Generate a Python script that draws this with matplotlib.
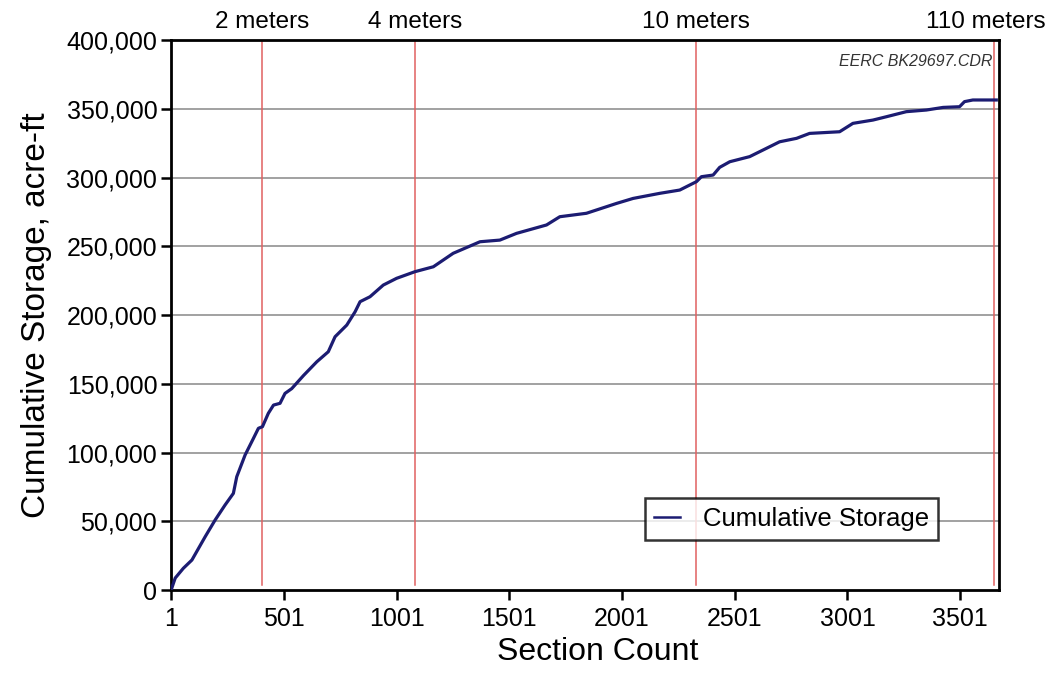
import matplotlib
matplotlib.use("Agg")
import matplotlib.pyplot as plt
from matplotlib.ticker import FuncFormatter
from matplotlib.transforms import blended_transform_factory

plt.rcParams['font.family'] = ['Liberation Sans', 'DejaVu Sans']

# Data
section = [1, 19, 55, 93, 152, 196, 240, 277, 292, 329, 366, 388, 406, 432, 455,
           484, 506, 536, 588, 647, 698, 728, 780, 817, 839, 883, 942, 1001, 1082,
           1164, 1252, 1371, 1459, 1533, 1666, 1725, 1843, 1977, 2050, 2168, 2257,
           2331, 2353, 2405, 2434, 2479, 2567, 2641, 2700, 2775, 2833, 2966, 3025,
           3114, 3173, 3262, 3351, 3425, 3498, 3520, 3557, 3661]
storage = [0, 8700, 15800, 21800, 38800, 50900, 61800, 70300, 82400, 98200, 110300,
           117600, 118800, 128500, 134500, 135800, 143000, 146500, 156000, 166000,
           173300, 184200, 192700, 202400, 209700, 213300, 221800, 226700, 231500,
           235100, 244900, 253300, 254500, 259400, 265500, 271500, 274000, 281200,
           284800, 288500, 290900, 297000, 300600, 301800, 307400, 311500, 315200,
           321200, 326000, 328500, 332100, 333300, 339400, 341800, 344200, 347900,
           349100, 351000, 351500, 355200, 356400, 356400]

depth_labels = ["2 meters", "4 meters", "10 meters", "110 meters"]
depth_sections = [406, 1082, 2327, 3650]

xticks = [1, 501, 1001, 1501, 2001, 2501, 3001, 3501]
yticks = [0, 50000, 100000, 150000, 200000, 250000, 300000, 350000, 400000]

fig = plt.figure(figsize=(10.5, 6.74), dpi=100)
ax = fig.add_axes([0.163, 0.1246, 0.788, 0.816])

for yt in yticks[1:-1]:
    ax.axhline(yt, color='#9a9a9a', lw=1.3, zorder=1)

for xs in depth_sections:
    ax.axvline(xs, ymin=0.01, ymax=1, color='#e06060', lw=1.1, zorder=2)

ax.plot(section, storage, color='#1c1c72', lw=2.3, zorder=3, label='Cumulative Storage')

ax.set_xlim(1, 3671)
ax.set_ylim(0, 400000)
ax.set_xticks(xticks)
ax.set_yticks(yticks)
ax.yaxis.set_major_formatter(FuncFormatter(lambda v, p: f"{int(v):,}"))
ax.tick_params(axis='both', direction='out', length=7, width=1.8, labelsize=18,
               colors='black')
ax.tick_params(axis='x', pad=5)
ax.tick_params(axis='y', pad=3)

for sp in ax.spines.values():
    sp.set_linewidth(2.0)
    sp.set_color('black')

trans = ax.get_xaxis_transform()
for lab, xs in zip(depth_labels[:-1], depth_sections[:-1]):
    ax.text(xs, 1.012, lab, transform=trans, ha='center', va='bottom', fontsize=17.5)
# last label sits at the right edge of the figure
edge_trans = blended_transform_factory(fig.transFigure, ax.transAxes)
ax.text(0.996, 1.012, depth_labels[-1], transform=edge_trans, ha='right', va='bottom',
        fontsize=17.5)

ax.text(0.993, 0.975, "EERC BK29697.CDR", transform=ax.transAxes, ha='right', va='top',
        fontsize=11.5, style='italic', color='#333333')

ax.set_xlabel("Section Count", fontsize=23, labelpad=4)
ax.xaxis.set_label_coords(0.515, -0.085)
ax.set_ylabel("Cumulative Storage, acre-ft", fontsize=24, labelpad=10)

leg = ax.legend(loc='center', bbox_to_anchor=(0.75, 0.129), fontsize=18.5,
                frameon=True, fancybox=False, handlelength=1.0, borderpad=0.35,
                handletextpad=0.9)
leg.get_frame().set_edgecolor('black')
leg.get_frame().set_linewidth(1.8)
leg.get_lines()[0].set_linewidth(1.8)

fig.savefig("out.png", dpi=100)
